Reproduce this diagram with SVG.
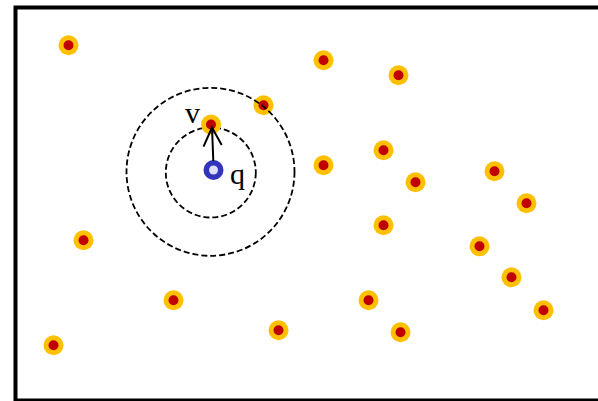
<svg xmlns="http://www.w3.org/2000/svg" width="598" height="401" viewBox="0 0 598 401">
<defs>
<style>
.frame{fill:#fff;stroke:#000;stroke-width:4}
.ring{fill:none;stroke:#000;stroke-width:1.8;stroke-dasharray:6 3}
.lbl{font-family:"Liberation Serif","DejaVu Serif",serif;font-size:30px;fill:#000}
.arr{fill:none;stroke:#000;stroke-width:2}
</style>
<symbol id="p" overflow="visible"><circle r="10" fill="#ffc000"/><circle r="5" fill="#c00000"/></symbol>
</defs>
<rect class="frame" x="15.5" y="7.5" width="600" height="393"/>
<g id="points" transform="translate(0.5,0.3)">
<g id="p1"><use href="#p" x="68" y="45"/></g>
<g id="p2"><use href="#p" x="323" y="60"/></g>
<g id="p3"><use href="#p" x="398" y="75"/></g>
<g id="p4"><use href="#p" x="263" y="105"/></g>
<g id="p6"><use href="#p" x="323" y="165"/></g>
<g id="p7"><use href="#p" x="383" y="150"/></g>
<g id="p8"><use href="#p" x="415" y="182"/></g>
<g id="p9"><use href="#p" x="494" y="171"/></g>
<g id="p10"><use href="#p" x="526" y="203"/></g>
<g id="p11"><use href="#p" x="83" y="240"/></g>
<g id="p12"><use href="#p" x="383" y="225"/></g>
<g id="p13"><use href="#p" x="479" y="246"/></g>
<g id="p14"><use href="#p" x="511" y="277"/></g>
<g id="p15"><use href="#p" x="173" y="300"/></g>
<g id="p16"><use href="#p" x="368" y="300"/></g>
<g id="p17"><use href="#p" x="278" y="330"/></g>
<g id="p18"><use href="#p" x="400" y="332"/></g>
<g id="p19"><use href="#p" x="543" y="310"/></g>
<g id="p20"><use href="#p" x="53" y="345"/></g>
</g>
<g id="rings">
<circle class="ring" cx="210.8" cy="172.5" r="45"/>
<circle class="ring" cx="210.5" cy="171.8" r="84"/>
</g>
<g id="v"><use href="#p" x="211" y="124.5"/><text class="lbl" x="185" y="123">v</text></g>
<g id="q"><circle cx="213.5" cy="170" r="10" fill="#3333bb"/><circle cx="213.5" cy="170" r="4.5" fill="#ddddff"/><text class="lbl" x="230" y="184">q</text></g>
<g id="connectors">
<line class="arr" x1="213.3" y1="161" x2="212" y2="127"/>
<polyline class="arr" points="203.5,146.7 212,127.5 221.7,145"/>
</g>
</svg>
